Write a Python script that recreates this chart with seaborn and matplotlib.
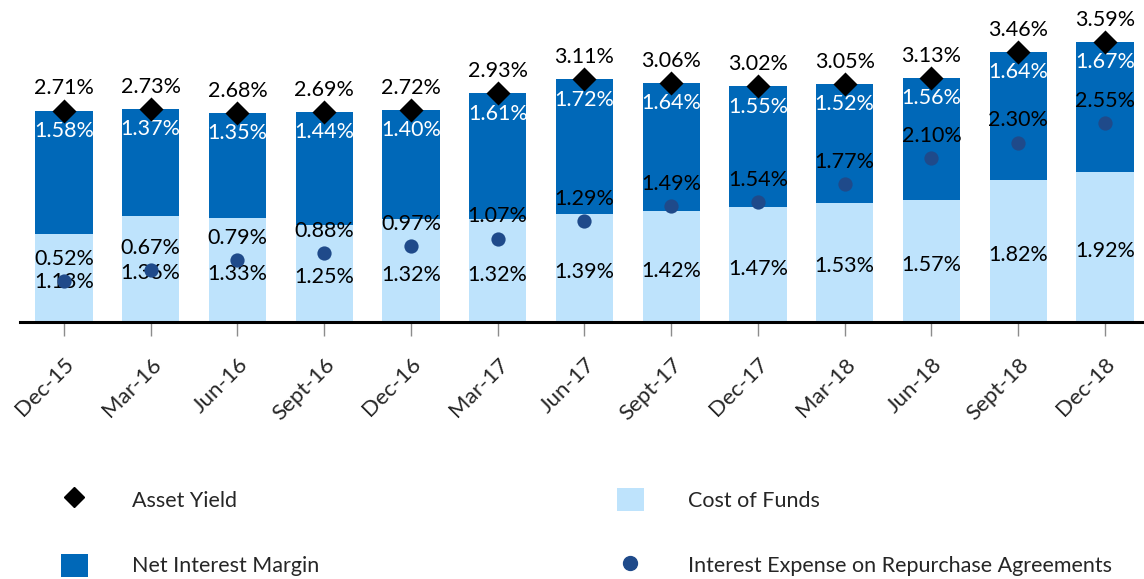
import numpy as np
import pandas as pd
import seaborn as sns
import matplotlib.pyplot as plt
from matplotlib.lines import Line2D
from matplotlib.patches import Patch

# datos
quarters = ["Dec-15", "Mar-16", "Jun-16", "Sept-16", "Dec-16", "Mar-17", "Jun-17",
            "Sept-17", "Dec-17", "Mar-18", "Jun-18", "Sept-18", "Dec-18"]
asset_yield = [2.71, 2.73, 2.68, 2.69, 2.72, 2.93, 3.11, 3.06, 3.02, 3.05, 3.13, 3.46, 3.59]
net_interest_margin = [1.58, 1.37, 1.35, 1.44, 1.40, 1.61, 1.72, 1.64, 1.55, 1.52, 1.56, 1.64, 1.67]
cost_of_funds = [1.13, 1.36, 1.33, 1.25, 1.32, 1.32, 1.39, 1.42, 1.47, 1.53, 1.57, 1.82, 1.92]
repo_expense = [0.52, 0.67, 0.79, 0.88, 0.97, 1.07, 1.29, 1.49, 1.54, 1.77, 2.10, 2.30, 2.55]

dark_blue = "#0068B8"
light_blue = "#BEE3FC"
dot_blue = "#1F4A8A"

sns.set_theme(style="white")
plt.rcParams['font.family'] = ['Lato', 'DejaVu Sans']
fs = 15.5

df = pd.DataFrame({"quarter": quarters, "ay": asset_yield, "nim": net_interest_margin,
                   "cof": cost_of_funds, "repo": repo_expense})
x = np.arange(len(df))

fig = plt.figure(figsize=(11.44, 5.79), dpi=100)
ax = fig.add_axes([20 / 1144, 1 - 322 / 579, 1 - 20 / 1144, 322 / 579])

# barras apiladas: total (= NIM + CoF) en azul oscuro, CoF encima en azul claro
df["top"] = df["cof"] + df["nim"]
sns.barplot(data=df, x="quarter", y="top", color=dark_blue, width=0.66,
            saturation=1, ax=ax, linewidth=0)
sns.barplot(data=df, x="quarter", y="cof", color=light_blue, width=0.66,
            saturation=1, ax=ax, linewidth=0)

ax.scatter(x, df["ay"], marker="D", s=150, color="black", zorder=5, linewidths=0)
ax.scatter(x, df["repo"], marker="o", s=105, color=dot_blue, zorder=5, linewidths=0)

# etiquetas
for i, row in df.iterrows():
    ax.annotate(f"{row['ay']:.2f}%", (i, row["ay"]), xytext=(0, 16), textcoords="offset points",
                ha="center", va="center", fontsize=fs, color="black")
    ax.annotate(f"{row['nim']:.2f}%", (i, row["top"]), xytext=(0, -14.5), textcoords="offset points",
                ha="center", va="center", fontsize=fs, color="white")
    ax.annotate(f"{row['repo']:.2f}%", (i, row["repo"]), xytext=(0, 16), textcoords="offset points",
                ha="center", va="center", fontsize=fs, color="black", zorder=6)
    ax.annotate(f"{row['cof']:.2f}%", (i, row["cof"] / 2), xytext=(0, -3), textcoords="offset points",
                ha="center", va="center", fontsize=fs, color="black", zorder=4)

ax.set_xlim(-0.507, 12.45)
ax.set_ylim(0, 322 / 78)
ax.set_xlabel("")
ax.set_ylabel("")
ax.set_yticks([])
for s in ["top", "right", "left"]:
    ax.spines[s].set_visible(False)
ax.spines["bottom"].set_color("black")
ax.spines["bottom"].set_linewidth(2.2)
ax.tick_params(axis="x", bottom=True, length=10, width=1, color="#8c8c8c",
               direction="out", labelsize=fs + 0.5, pad=13)
ax.set_xticks(x)
ax.set_xticklabels(quarters, rotation=45, ha="right", rotation_mode="anchor")

# leyenda en dos columnas
h1 = [Line2D([], [], marker="D", color="black", linestyle="none", markersize=10),
      Patch(facecolor=dark_blue, edgecolor="none")]
h2 = [Patch(facecolor=light_blue, edgecolor="none"),
      Line2D([], [], marker="o", color=dot_blue, linestyle="none", markersize=10)]
kw = dict(frameon=False, fontsize=fs, handlelength=1.25, handleheight=1.25,
          handletextpad=2.05, labelspacing=2.0, borderpad=0, borderaxespad=0)
fig.legend(h1, ["Asset Yield", "Net Interest Margin"], loc="upper left",
           bbox_to_anchor=(61 / 1144, 1 - 488 / 579), **kw)
fig.legend(h2, ["Cost of Funds", "Interest Expense on Repurchase Agreements"], loc="upper left",
           bbox_to_anchor=(617 / 1144, 1 - 488 / 579), **kw)

plt.savefig("out.png", dpi=100)
